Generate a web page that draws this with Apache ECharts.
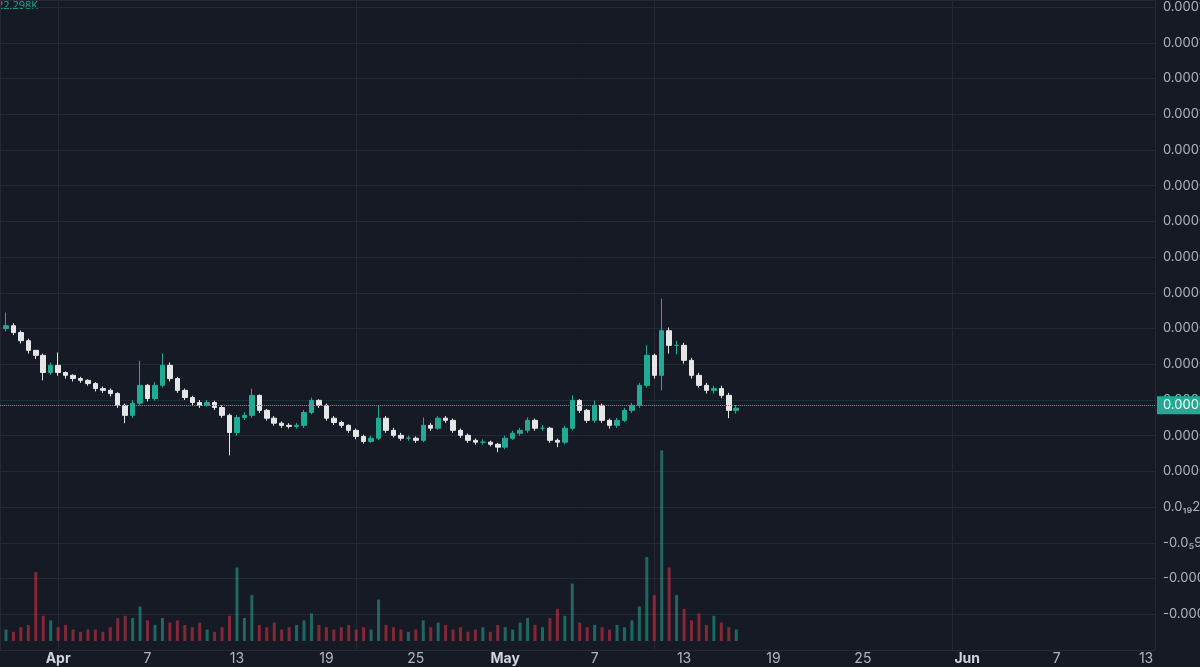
<!DOCTYPE html>
<html>
<head>
<meta charset="utf-8">
<script src="https://cdn.jsdelivr.net/npm/echarts@6/dist/echarts.min.js"></script>
<style>
  html, body { margin: 0; padding: 0; background: #161a25; }
  #main { width: 1200px; height: 667px; }
</style>
</head>
<body>
<div id="main"></div>
<script>
// 12h candles, x = day offset from Apr 1, price in units of 1e-5
var startDay = -3.5;
var step = 0.5;
var firstOpen = 5.0;
var closes = [5.08, 4.89, 4.66, 4.39, 4.25, 3.77, 3.97, 3.77, 3.69, 3.60,
  3.55, 3.46, 3.32, 3.27, 3.18, 2.85, 2.57, 2.91, 3.41, 3.04,
  3.41, 3.97, 3.60, 3.27, 3.07, 2.93, 2.85, 2.93, 2.79, 2.57,
  2.09, 2.51, 2.57, 3.13, 2.71, 2.49, 2.35, 2.29, 2.26, 2.29,
  2.65, 2.99, 2.85, 2.49, 2.37, 2.29, 2.15, 1.98, 1.84, 1.93,
  2.49, 2.15, 2.01, 1.93, 1.93, 1.87, 2.29, 2.21, 2.49, 2.43,
  2.15, 2.01, 1.87, 1.82, 1.82, 1.76, 1.68, 1.93, 2.07, 2.15,
  2.43, 2.21, 2.21, 1.87, 1.82, 2.21, 2.99, 2.71, 2.43, 2.85,
  2.43, 2.29, 2.43, 2.71, 2.85, 3.41, 4.25, 3.69, 4.94, 4.53,
  4.53, 4.11, 3.69, 3.41, 3.27, 3.32, 3.13, 2.71, 2.77];
var highs = [5.45, 5.15, 4.95, 4.72, 4.40, 4.30, 4.05, 4.33, 3.80, 3.72,
  3.65, 3.58, 3.50, 3.38, 3.32, 3.22, 2.90, 3.00, 4.10, 3.45,
  3.50, 4.30, 4.05, 3.65, 3.32, 3.12, 3.00, 3.00, 2.98, 2.85,
  2.62, 2.58, 2.66, 3.32, 3.15, 2.75, 2.55, 2.40, 2.35, 2.36,
  2.72, 3.07, 3.02, 2.90, 2.55, 2.42, 2.32, 2.20, 2.03, 2.00,
  2.85, 2.55, 2.22, 2.08, 2.00, 1.98, 2.51, 2.35, 2.55, 2.55,
  2.48, 2.20, 2.06, 1.92, 1.90, 1.86, 1.80, 2.00, 2.14, 2.22,
  2.51, 2.48, 2.30, 2.25, 1.92, 2.28, 3.13, 3.02, 2.75, 2.99,
  2.90, 2.48, 2.50, 2.78, 2.92, 3.48, 4.53, 4.30, 5.84, 5.03,
  4.66, 4.60, 4.18, 3.76, 3.48, 3.40, 3.40, 3.20, 2.86];
var lows = [4.92, 4.82, 4.58, 4.30, 4.15, 3.55, 3.70, 3.68, 3.60, 3.52,
  3.48, 3.40, 3.24, 3.20, 3.10, 2.78, 2.35, 2.50, 2.85, 2.96,
  2.98, 3.35, 3.52, 3.20, 3.00, 2.86, 2.78, 2.82, 2.72, 2.50,
  1.45, 2.00, 2.44, 2.50, 2.64, 2.42, 2.28, 2.22, 2.20, 2.20,
  2.22, 2.60, 2.78, 2.42, 2.30, 2.22, 2.08, 1.90, 1.78, 1.80,
  1.88, 2.08, 1.95, 1.86, 1.86, 1.80, 1.82, 2.14, 2.16, 2.36,
  2.08, 1.94, 1.80, 1.75, 1.75, 1.70, 1.54, 1.62, 1.88, 2.00,
  2.08, 2.14, 2.14, 1.80, 1.68, 1.76, 2.15, 2.64, 2.36, 2.36,
  2.36, 2.20, 2.22, 2.38, 2.64, 2.78, 3.35, 3.60, 3.27, 4.30,
  4.28, 4.02, 3.60, 3.35, 3.18, 3.18, 3.05, 2.49, 2.62];
var volumes = [10, 8, 12, 14, 60, 22, 18, 12, 14, 10,
  8, 10, 10, 8, 12, 20, 22, 20, 30, 18,
  14, 20, 16, 18, 14, 12, 16, 10, 8, 12,
  22, 64, 20, 40, 14, 12, 16, 10, 12, 14,
  18, 24, 14, 12, 10, 12, 14, 10, 12, 10,
  36, 14, 12, 10, 8, 10, 18, 12, 16, 14,
  10, 12, 8, 10, 12, 8, 14, 12, 10, 16,
  20, 14, 12, 20, 28, 22, 50, 16, 12, 14,
  12, 10, 14, 12, 18, 30, 73, 40, 166, 64,
  40, 28, 18, 24, 14, 22, 16, 12, 10];
var xTicks = [0, 6, 12, 18, 24, 30, 36, 42, 48, 54, 61, 67, 73];
var xTickLabels = ["Apr", "7", "13", "19", "25", "May", "7", "13", "19", "25", "Jun", "7", "13"];
var topLabel = "22.298K";

var candleData = [];
var volumeData = [];
var prev = firstOpen;
for (var i = 0; i < closes.length; i++) {
  var x = startDay + i * step;
  var o = prev, c = closes[i];
  candleData.push([x, o, c, lows[i], highs[i]]);
  volumeData.push({
    value: [x, volumes[i]],
    itemStyle: { color: c >= o ? "rgba(34,171,148,0.55)" : "rgba(242,54,69,0.5)" }
  });
  prev = c;
}
var lastClose = closes[closes.length - 1];

function yFmt(v) {
  if (v === 0) return "0.0\u2081\u20892";
  if (v === -1) return "-0.0\u20859";
  return (v * 1e-5).toFixed(8);
}

var myChart = echarts.init(document.getElementById("main"));
myChart.setOption({
  backgroundColor: "#161a25",
  animation: false,
  graphic: [{
    type: "text", left: -3, top: 0,
    style: { text: topLabel, fill: "#22ab94", font: "11px 'Open Sans'" }
  }],
  grid: [
    { left: 0, right: 45, top: 0, bottom: 17, outerBoundsMode: "none", containLabel: false },
    { left: 0, right: 45, top: 440, bottom: 26, outerBoundsMode: "none", containLabel: false }
  ],
  xAxis: [
    {
      type: "value", gridIndex: 0, min: -3.9, max: 73.6,
      axisLine: { show: false }, axisTick: { show: false },
      splitLine: { show: true, lineStyle: { color: "#252935" } },
      axisLabel: {
        customValues: xTicks, margin: 2,
        formatter: function (v) {
          var t = xTickLabels[xTicks.indexOf(v)] || "";
          return isNaN(t) ? "{b|" + t + "}" : t;
        },
        color: "#b2b5be", fontSize: 14, fontFamily: "Inter",
        rich: { b: { color: "#d1d4dc", fontWeight: "bold", fontSize: 14, fontFamily: "Inter" } }
      }
    },
    {
      type: "value", gridIndex: 1, min: -3.9, max: 73.6,
      show: false
    }
  ],
  yAxis: [
    {
      type: "value", gridIndex: 0, position: "right", min: -4, max: 14.2, interval: 1,
      axisLine: { show: false }, axisTick: { show: false },
      splitLine: { lineStyle: { color: "#252935" } },
      axisLabel: {
        formatter: function (v) { return v > 14 ? "" : yFmt(v); },
        color: "#b2b5be", fontSize: 13, fontFamily: "Inter", margin: 8,
        showMaxLabel: true, showMinLabel: false
      }
    },
    { type: "value", gridIndex: 1, min: 0, max: 175, show: false }
  ],
  series: [
    {
      type: "bar", xAxisIndex: 1, yAxisIndex: 1,
      barWidth: 3, data: volumeData
    },
    {
      type: "candlestick", xAxisIndex: 0, yAxisIndex: 0,
      barWidth: 5,
      itemStyle: {
        color: "#22ab94", color0: "#e6e6e6",
        borderColor: "#22ab94", borderColor0: "#e6e6e6", borderWidth: 1
      },
      data: candleData,
      markLine: {
        symbol: "none", silent: true,
        lineStyle: { color: "#22ab94", type: "dotted", width: 1 },
        label: {
          position: "end", distance: 2,
          formatter: yFmt(lastClose),
          color: "#fff", backgroundColor: "#22ab94", fontSize: 13, fontFamily: "Inter",
          padding: [3, 6, 2, 6]
        },
        data: [{ yAxis: 2.85 }]
      }
    }
  ]
});
myChart.resize();
</script>
</body>
</html>
